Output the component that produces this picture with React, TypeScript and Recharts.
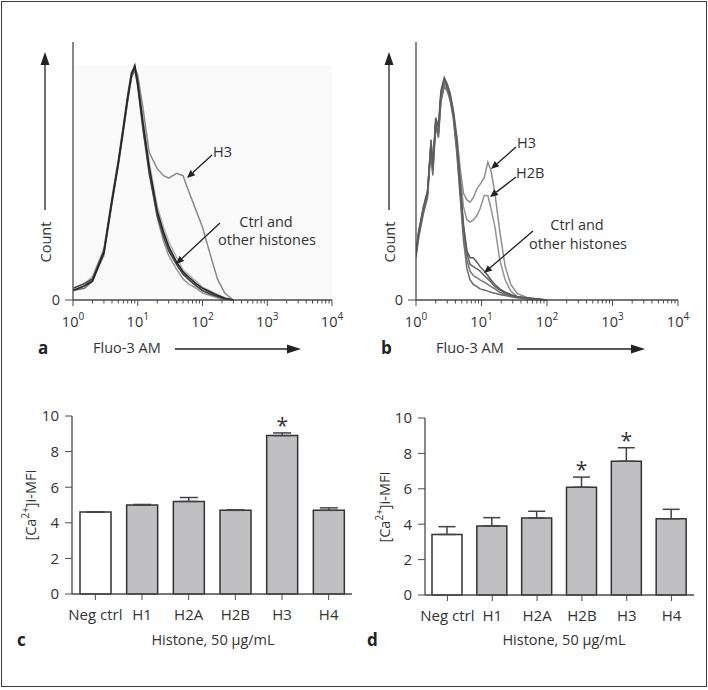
import React from "react";
import {
  Bar,
  Cell,
  ComposedChart,
  ErrorBar,
  LabelList,
  Line,
  LineChart,
  ReferenceArea,
  XAxis,
  YAxis,
} from "recharts";

const FONT = "'Open Sans', 'Noto Sans', sans-serif";
const INK = "#333";
const AXIS = "#4a4a4a";

// log axis ticks for the Fluo-3 AM histograms
const fluoTicks = [
  1, 2, 3, 4, 5, 6, 7, 8, 9, 10, 20, 30, 40, 50, 60, 70, 80, 90, 100, 200, 300,
  400, 500, 600, 700, 800, 900, 1000, 2000, 3000, 4000, 5000, 6000, 7000, 8000,
  9000, 10000,
];

// panel a: fluorescence channel and counts per curve
const fluoXA = [1, 1.5, 2, 3, 4, 5, 6, 7, 8, 9, 10, 12, 15, 20, 25, 30, 40, 50, 60, 80, 100, 130, 170, 220, 300];
const ctrlA = [4, 6, 8, 20, 42, 58, 73, 86, 96, 100, 93, 76, 57, 38, 29, 23, 16, 12, 10, 7, 5, 3.5, 2, 0.8, 0];
const h1A = [5, 7, 9, 21, 43, 59, 74, 87, 97, 99, 91, 73, 54, 36, 27, 21, 15, 11, 9, 6, 4, 2.5, 1.5, 0.5, 0];
const h2aA = [4, 6, 9, 19, 41, 57, 72, 85, 95, 99, 92, 75, 55, 35, 25, 19, 13, 9, 7, 5, 3, 2, 1, 0.3, 0];
const h2bA = [5, 7, 10, 22, 44, 60, 75, 88, 97, 100, 94, 78, 59, 40, 31, 25, 18, 13, 11, 8, 5.5, 4, 2.5, 1, 0];
const h4A = [4, 5, 8, 20, 42, 58, 73, 86, 95, 98, 92, 74, 56, 37, 28, 22, 16, 12, 9, 6, 4, 3, 1.5, 0.5, 0];
const h3A = [4, 6, 9, 21, 42, 58, 72, 85, 95, 99, 96, 82, 63, 56, 53, 52, 54, 53, 47, 38, 31, 20, 9, 3, 0];

// panel b
const fluoXB = [1, 1.1, 1.3, 1.5, 1.7, 1.8, 2, 2.2, 2.4, 2.7, 3, 3.3, 3.7, 4.2, 4.7, 5.3, 6, 6.7, 7.5, 8.5, 9.5, 11, 12.5, 14, 16, 19, 23, 28, 35, 50, 70, 100];
const ctrlB = [20, 30, 40, 47, 72, 58, 80, 75, 92, 99, 95, 92, 84, 70, 52, 33, 21, 16, 15, 14, 13, 11, 9.5, 8, 6, 4.5, 3, 2, 1.5, 0.8, 0.4, 0];
const h1B = [22, 31, 42, 49, 70, 60, 82, 78, 94, 100, 97, 93, 85, 72, 54, 34, 22, 19, 19, 17, 15, 13, 11, 9, 7, 5, 3.5, 2.5, 1.5, 1, 0.5, 0];
const h2aB = [21, 29, 41, 48, 71, 57, 79, 74, 90, 97, 96, 91, 83, 68, 50, 30, 18, 13, 11, 10, 9, 8, 7, 6, 5, 3.5, 2.5, 2, 1.2, 0.6, 0.3, 0];
const h4B = [19, 28, 39, 46, 69, 56, 78, 73, 89, 96, 94, 90, 82, 66, 47, 27, 14, 9, 7, 6, 5, 4.5, 4, 3.5, 3, 2.5, 2, 1.5, 1, 0.5, 0.2, 0];
const h2bB = [21, 30, 41, 48, 71, 58, 80, 76, 92, 98, 96, 92, 84, 72, 57, 42, 36, 35, 36, 38, 41, 47, 47, 41, 33, 18, 9, 4, 1.5, 0.8, 0.3, 0];
const h3B = [22, 31, 42, 49, 72, 59, 81, 77, 93, 99, 97, 93, 86, 74, 60, 48, 45, 44, 46, 50, 52, 55, 62, 58, 48, 31, 15, 7, 3, 1, 0.4, 0];

// panels c and d: [Ca2+]i MFI
const histones = ["Neg ctrl", "H1", "H2A", "H2B", "H3", "H4"];
const meanC = [4.6, 5.0, 5.2, 4.7, 8.9, 4.7];
const errC = [0, 0.03, 0.22, 0.03, 0.15, 0.14];
const sigC = [false, false, false, false, true, false];
const meanD = [3.42, 3.9, 4.35, 6.09, 7.56, 4.31];
const errD = [0.44, 0.47, 0.38, 0.57, 0.76, 0.53];
const sigD = [false, false, false, true, true, false];

const LogTick = (props: any) => {
  const { x, y, payload } = props;
  const exp = Math.log10(payload.value);
  const major = Math.abs(exp - Math.round(exp)) < 1e-6;
  return (
    <g>
      <line x1={x} x2={x} y1={y} y2={y + (major ? 6 : 3.5)} stroke={AXIS} strokeWidth={1} />
      {major && (
        <text x={x} y={y + 27} textAnchor="middle" fontSize={14.5} fill={INK} fontFamily={FONT}>
          10
          <tspan dy={-7} fontSize={10}>
            {Math.round(exp)}
          </tspan>
        </text>
      )}
    </g>
  );
};

interface Curve {
  ys: number[];
  color: string;
}

function Histogram({
  xs,
  curves,
  yMax,
  margin,
  background,
}: {
  xs: number[];
  curves: Curve[];
  yMax: number;
  margin: { top: number; right: number; left: number; bottom: number };
  background?: boolean;
}) {
  return (
    <LineChart width={354} height={340} margin={margin}>
      <XAxis
        dataKey="x"
        type="number"
        scale="log"
        domain={[1, 10000]}
        ticks={fluoTicks}
        interval={0}
        tick={<LogTick />}
        tickLine={false}
        tickSize={0}
        tickMargin={0}
        height={40}
        allowDataOverflow
        axisLine={{ stroke: AXIS, strokeWidth: 1.3 }}
      />
      <YAxis
        type="number"
        domain={[0, yMax]}
        ticks={[0]}
        width={25}
        tickSize={8}
        tickMargin={5}
        tick={{ fontSize: 14.5, fill: INK, fontFamily: FONT }}
        tickLine={{ stroke: AXIS }}
        axisLine={{ stroke: AXIS, strokeWidth: 1.3 }}
      />
      {background && (
        <ReferenceArea x1={1} x2={10000} y1={0} y2={100} fill="#fafafa" fillOpacity={1} stroke="none" />
      )}
      {curves.map((c, i) => (
        <Line
          key={i}
          data={xs.map((x, j) => ({ x, y: c.ys[j] }))}
          dataKey="y"
          type="linear"
          dot={false}
          stroke={c.color}
          strokeWidth={1.5}
          isAnimationActive={false}
        />
      ))}
    </LineChart>
  );
}

function MfiPanel({
  means,
  errs,
  sig,
  width,
  margin,
  barSize,
  capWidth,
}: {
  means: number[];
  errs: number[];
  sig: boolean[];
  width: number;
  margin: { top: number; right: number; left: number; bottom: number };
  barSize: number;
  capWidth: number;
}) {
  const data = histones.map((name, i) => ({ name, mean: means[i], err: [0, errs[i]] }));
  const star = (p: any) => {
    const i = p.index;
    if (!sig[i]) return null;
    const x = Number(p.x);
    const y = Number(p.y);
    const w = Number(p.width);
    const h = Number(p.height);
    const ppu = h / means[i];
    const cy = y - (errs[i] + 0.62) * ppu;
    return (
      <text x={x + w / 2} y={cy + 11} textAnchor="middle" fontSize={21} fill={INK} fontFamily={FONT}>
        *
      </text>
    );
  };
  return (
    <ComposedChart width={width} height={260} data={data} margin={margin}>
      <XAxis
        dataKey="name"
        type="category"
        interval={0}
        height={30}
        tickSize={6}
        tickMargin={9}
        tick={{ fontSize: 15, fill: INK, fontFamily: FONT }}
        tickLine={{ stroke: AXIS }}
        axisLine={{ stroke: AXIS, strokeWidth: 1.3 }}
      />
      <YAxis
        type="number"
        domain={[0, 10]}
        ticks={[0, 2, 4, 6, 8, 10]}
        width={40}
        tickSize={7}
        tickMargin={6}
        tick={{ fontSize: 15, fill: INK, fontFamily: FONT }}
        tickLine={{ stroke: AXIS }}
        axisLine={{ stroke: AXIS, strokeWidth: 1.3 }}
      />
      <Bar dataKey="mean" barSize={barSize} stroke="#333" strokeWidth={1.5} isAnimationActive={false}>
        {data.map((d, i) => (
          <Cell key={d.name} fill={i === 0 ? "#ffffff" : "#c0c0c2"} />
        ))}
        <ErrorBar dataKey="err" width={capWidth} stroke="#444" strokeWidth={1.5} direction="y" />
        <LabelList dataKey="mean" content={star} />
      </Bar>
    </ComposedChart>
  );
}

const Arrow = ({
  x1,
  y1,
  x2,
  y2,
  head = 8,
  half = 3.5,
  w = 1.3,
}: {
  x1: number;
  y1: number;
  x2: number;
  y2: number;
  head?: number;
  half?: number;
  w?: number;
}) => {
  const a = Math.atan2(y2 - y1, x2 - x1);
  const bx = x2 - head * Math.cos(a);
  const by = y2 - head * Math.sin(a);
  const px = -Math.sin(a) * half;
  const py = Math.cos(a) * half;
  return (
    <g>
      <line x1={x1} y1={y1} x2={bx} y2={by} stroke="#222" strokeWidth={w} />
      <polygon points={`${x2},${y2} ${bx + px},${by + py} ${bx - px},${by - py}`} fill="#222" />
    </g>
  );
};

const txt = { fontFamily: FONT, fontSize: 14.5, fill: INK } as const;
const letter = { fontFamily: FONT, fontSize: 17, fontWeight: 700, fill: "#222" } as const;

export default function App() {
  return (
    <div
      style={{
        position: "absolute",
        left: 0,
        top: 0,
        width: 708,
        height: 690,
        background: "#fff",
        fontFamily: FONT,
      }}
    >
      <div
        style={{
          position: "absolute",
          left: 1,
          top: 1,
          width: 706,
          height: 686,
          boxSizing: "border-box",
          border: "1.5px solid #3c3c3c",
        }}
      />
      <div style={{ position: "absolute", left: 0, top: 0 }}>
        <Histogram
          xs={fluoXA}
          yMax={110}
          background
          margin={{ top: 42, right: 22, left: 48, bottom: 0 }}
          curves={[
            { ys: h2bA, color: "#b4b4b4" },
            { ys: h2aA, color: "#9a9a9a" },
            { ys: h3A, color: "#8a8a8a" },
            { ys: h4A, color: "#6e6e6e" },
            { ys: h1A, color: "#444444" },
            { ys: ctrlA, color: "#262626" },
          ]}
        />
      </div>
      <div style={{ position: "absolute", left: 354, top: 0 }}>
        <Histogram
          xs={fluoXB}
          yMax={116}
          margin={{ top: 42, right: 30, left: 37, bottom: 0 }}
          curves={[
            { ys: h3B, color: "#8e8e8e" },
            { ys: h2bB, color: "#939393" },
            { ys: h4B, color: "#6a6a6a" },
            { ys: h2aB, color: "#747474" },
            { ys: ctrlB, color: "#666666" },
            { ys: h1B, color: "#5a5a5a" },
          ]}
        />
      </div>
      <div style={{ position: "absolute", left: 0, top: 390 }}>
        <MfiPanel
          means={meanC}
          errs={errC}
          sig={sigC}
          width={360}
          margin={{ top: 26, right: 8, left: 32, bottom: 26 }}
          barSize={31}
          capWidth={9}
        />
      </div>
      <div style={{ position: "absolute", left: 354, top: 390 }}>
        <MfiPanel
          means={meanD}
          errs={errD}
          sig={sigD}
          width={354}
          margin={{ top: 28, right: 14, left: 31, bottom: 25 }}
          barSize={30}
          capWidth={8.5}
        />
      </div>
      <svg
        width={708}
        height={690}
        style={{ position: "absolute", left: 0, top: 0, pointerEvents: "none" }}
      >
        {/* panel a annotations */}
        <Arrow x1={45} y1={210} x2={45} y2={52} head={13} half={4.5} />
        <text {...txt} x={45} y={242} textAnchor="middle" dominantBaseline="central" transform="rotate(-90 45 242)">
          Count
        </text>
        <text {...txt} x={213} y={157}>H3</text>
        <Arrow x1={212} y1={155} x2={187} y2={178} />
        <text {...txt} x={266} y={227} textAnchor="middle">Ctrl and</text>
        <text {...txt} x={267} y={245} textAnchor="middle">other histones</text>
        <Arrow x1={220} y1={223} x2={176} y2={264} />
        <text {...letter} x={38} y={354}>a</text>
        <text {...txt} x={93} y={353}>Fluo-3 AM</text>
        <Arrow x1={175} y1={349} x2={301} y2={349} head={14} half={4.5} />

        {/* panel b annotations */}
        <Arrow x1={389} y1={210} x2={389} y2={52} head={13} half={4.5} />
        <text {...txt} x={389} y={242} textAnchor="middle" dominantBaseline="central" transform="rotate(-90 389 242)">
          Count
        </text>
        <text {...txt} x={517} y={148}>H3</text>
        <Arrow x1={516} y1={147} x2={491} y2={169} />
        <text {...txt} x={516} y={178}>H2B</text>
        <Arrow x1={516} y1={177} x2={490} y2={197} />
        <text {...txt} x={577} y={230} textAnchor="middle">Ctrl and</text>
        <text {...txt} x={578} y={249} textAnchor="middle">other histones</text>
        <Arrow x1={533} y1={231} x2={484} y2={273} />
        <text {...letter} x={381} y={354}>b</text>
        <text {...txt} x={436} y={353}>Fluo-3 AM</text>
        <Arrow x1={517} y1={349} x2={645} y2={349} head={14} half={4.5} />

        {/* panel c */}
        <text {...txt} x={30} y={505} textAnchor="middle" dominantBaseline="central" transform="rotate(-90 30 505)">
          [Ca<tspan dy={-5} fontSize={10}>2+</tspan>
          <tspan dy={5}>]i-MFI</tspan>
        </text>
        <text {...txt} x={213} y={645} textAnchor="middle">Histone, 50 µg/mL</text>
        <text {...letter} x={17} y={646}>c</text>

        {/* panel d */}
        <text {...txt} x={384} y={507} textAnchor="middle" dominantBaseline="central" transform="rotate(-90 384 507)">
          [Ca<tspan dy={-5} fontSize={10}>2+</tspan>
          <tspan dy={5}>]i-MFI</tspan>
        </text>
        <text {...txt} x={564} y={645} textAnchor="middle">Histone, 50 µg/mL</text>
        <text {...letter} x={367} y={646}>d</text>
      </svg>
    </div>
  );
}
